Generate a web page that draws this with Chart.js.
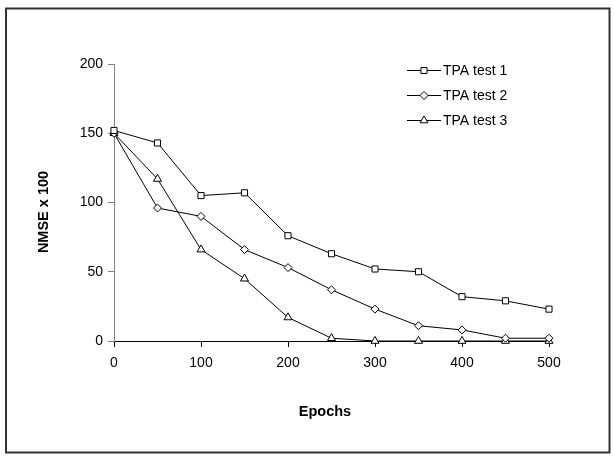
<!DOCTYPE html>
<html>
<head>
<meta charset="utf-8">
<script src="https://cdn.jsdelivr.net/npm/chart.js@4.4.1/dist/chart.umd.min.js"></script>
<style>
  html, body { margin: 0; padding: 0; background: #fff; }
  #wrap { width: 615px; height: 458px; }
</style>
</head>
<body>
<div id="wrap"><canvas id="myChart" width="615" height="458"></canvas></div>
<script>
// datos
const epochs = [0, 50, 100, 150, 200, 250, 300, 350, 400, 450, 500]
const test1 = [152, 143, 105, 107, 76, 63, 52, 50, 32, 29, 23]
const test2 = [150, 96, 90, 66, 53, 37, 23, 11, 8, 2, 2]
const test3 = [150, 117, 66, 45, 17, 2, 0, 0, 0, 0, 0]
const seriesNames = ["TPA test 1", "TPA test 2", "TPA test 3"]
const markers = ["rect", "rectRot", "triangle"]
const markerSizes = [4.3, 4, 4.6]
const xTicks = [0, 100, 200, 300, 400, 500]
const yTicks = [0, 50, 100, 150, 200]
const xTitle = "Epochs"
const yTitle = "NMSE x 100"

const font = "'Liberation Sans', Arial, sans-serif"

function toPoints(values) {
    return epochs.map((e, i) => ({ x: e, y: values[i] }))
}

const datasets = [test1, test2, test3].map((vals, i) => ({
    label: seriesNames[i],
    data: toPoints(vals),
    borderColor: "#000",
    borderWidth: 1,
    backgroundColor: "#fff",
    pointStyle: markers[i],
    pointRadius: markerSizes[i],
    pointBorderColor: "#000",
    pointBackgroundColor: "#fff",
    pointBorderWidth: 1,
    tension: 0,
    clip: false
}))

// borde exterior, titulos y leyenda dibujados a mano
const extras = {
    id: "extras",
    beforeDraw(chart) {
        const ctx = chart.ctx
        ctx.save()
        ctx.fillStyle = "#fff"
        ctx.fillRect(0, 0, chart.width, chart.height)
        ctx.restore()
    },
    afterDraw(chart) {
        const ctx = chart.ctx
        ctx.save()
        ctx.strokeStyle = "#333"
        ctx.lineWidth = 2
        ctx.strokeRect(6, 8.5, 603.5, 444)

        ctx.fillStyle = "#000"
        ctx.font = "bold 14.5px " + font
        ctx.textAlign = "center"
        ctx.textBaseline = "middle"
        ctx.fillText(xTitle, 325, 412)
        ctx.translate(44, 212)
        ctx.rotate(-Math.PI / 2)
        ctx.fillText(yTitle, 0, 0)
        ctx.restore()

        const rows = [70, 95, 120]
        chart.data.datasets.forEach((ds, i) => {
            const y = rows[i]
            ctx.save()
            ctx.strokeStyle = "#000"
            ctx.lineWidth = 1
            ctx.beginPath()
            ctx.moveTo(407, y + 0.5)
            ctx.lineTo(441, y + 0.5)
            ctx.stroke()
            ctx.fillStyle = "#fff"
            Chart.helpers.drawPoint(ctx, {
                pointStyle: ds.pointStyle,
                radius: ds.pointRadius,
                rotation: 0,
                borderWidth: 1
            }, 424, y + 0.5)
            ctx.fillStyle = "#000"
            ctx.font = "14px " + font
            ctx.textAlign = "left"
            ctx.textBaseline = "middle"
            ctx.fillText(ds.label, 443, y + 1)
            ctx.restore()
        })
    }
}

const config = {
    type: "line",
    data: { datasets: datasets },
    options: {
        responsive: false,
        animation: false,
        layout: { padding: { left: 0, top: 64, right: 66, bottom: 0 } },
        plugins: {
            legend: { display: false },
            tooltip: { enabled: false }
        },
        scales: {
            x: {
                type: "linear",
                min: 0,
                max: 500,
                afterBuildTicks: s => { s.ticks = xTicks.map(v => ({ value: v })) },
                afterFit: s => { s.height = 117 },
                border: { color: "#000", width: 1 },
                grid: { drawOnChartArea: false, tickLength: 6, color: "#000" },
                ticks: { color: "#000", font: { family: font, size: 14 }, padding: 8, maxRotation: 0 }
            },
            y: {
                min: 0,
                max: 200,
                afterBuildTicks: s => { s.ticks = yTicks.map(v => ({ value: v })) },
                afterFit: s => { s.width = 114 },
                border: { color: "#808080", width: 1 },
                grid: { drawOnChartArea: false, tickLength: 6, color: "#808080" },
                ticks: { color: "#000", font: { family: font, size: 14 }, padding: 5 }
            }
        }
    },
    plugins: [extras]
}

new Chart(document.getElementById("myChart"), config)
</script>
</body>
</html>
